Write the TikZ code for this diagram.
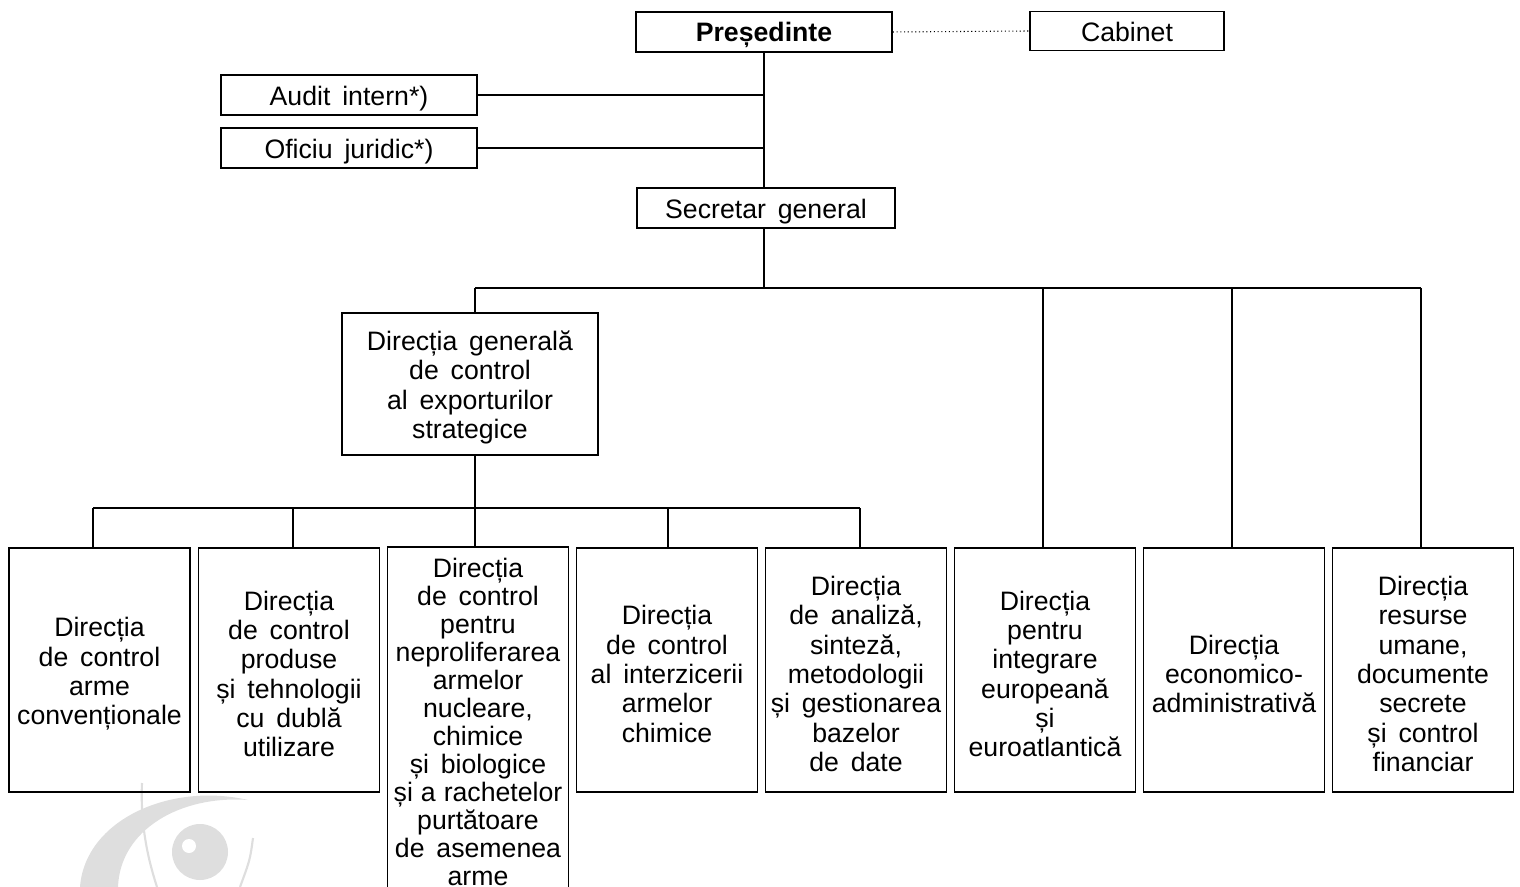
\documentclass[tikz,border=0pt]{standalone}
\usepackage{fontspec}
\setmainfont{Liberation Sans}[WordSpace=1.6]
\definecolor{wm}{HTML}{DEDEDE}
\begin{document}
\begin{tikzpicture}[x=0.75pt,y=-0.75pt,
  box/.style={draw, line width=1.2pt, inner sep=0pt},
  txt/.style={inner sep=0pt, align=center,
    font=\fontsize{20}{22}\selectfont},
  dirbox/.style={box, minimum width=135.75pt, minimum height=183pt},
  ln/.style={line width=1.2pt},
  wmline/.style={draw=wm, line width=1.6pt}]
\useasboundingbox (0,0) rectangle (1520,887);

% watermark
\fill[wm] (80,887) .. controls (85,820) and (170,782) .. (248,800)
  .. controls (180,795) and (120,830) .. (118,887) -- cycle;
\draw[wmline] (142,783) .. controls (140,830) and (150,865) .. (157,887);
\fill[wm] (200,852) circle[radius=28];
\fill[white] (189,846) circle[radius=7];
\draw[wmline] (253,838) .. controls (250,860) .. (240,887);

% top
\node[box, minimum width=192pt, minimum height=30pt] (pres) at (764,32) {};
\node[txt] (prest) at ([yshift=-2.5pt]pres.center) {\bfseries Președinte};
\node[box, minimum width=145.5pt, minimum height=29.25pt] (cab) at (1127,31) {};
\node[txt] (cabt) at ([yshift=-0.5pt]cab.center) {Cabinet};
\node[box, minimum width=192pt, minimum height=30pt] (audit) at (349,95) {};
\node[txt] (auditt) at ([yshift=-2.5pt]audit.center) {Audit intern*)};
\node[box, minimum width=192pt, minimum height=30pt] (ofic) at (349,148) {};
\node[txt] (ofict) at ([yshift=-2.5pt]ofic.center) {Oficiu juridic*)};
\node[box, minimum width=193.5pt, minimum height=30pt] (sec) at (766,208) {};
\node[txt] (sect) at ([yshift=-2.5pt]sec.center) {Secretar general};
\node[box, minimum width=192pt, minimum height=106.5pt] (dg) at (470,384) {};
\node[txt] (dgt) at ([yshift=-2.5pt]dg.center)
  {Direcția generală\\de control\\al exporturilor\\strategice};

% bottom directions
\node[dirbox] (d1) at (99.5,670) {};
\node[txt] (d1t) at ([yshift=-3pt]d1.center) {Direcția\\de control\\arme\\convenționale};
\node[dirbox] (d2) at (289,670) {};
\node[txt] (d2t) at ([yshift=-3pt]d2.center) {Direcția\\de control\\produse\\și tehnologii\\cu dublă\\utilizare};
\node[dirbox, minimum height=262.5pt] (d3) at (478,722) {};
\node[txt, font=\fontsize{20}{21}\selectfont] (d3t) at ([yshift=0pt]d3.center)
  {Direcția\\de control\\pentru\\neproliferarea\\armelor\\nucleare,\\chimice\\și biologice\\și\hspace{0.3em}a\hspace{0.3em}rachetelor\\purtătoare\\de asemenea\\arme};
\node[dirbox] (d4) at (667,670) {};
\node[txt] (d4t) at ([yshift=-3pt]d4.center) {Direcția\\de control\\al interzicerii\\armelor\\chimice};
\node[dirbox] (d5) at (856,670) {};
\node[txt] (d5t) at ([yshift=-3pt]d5.center) {Direcția\\de analiză,\\sinteză,\\metodologii\\și gestionarea\\bazelor\\de date};
\node[dirbox] (d6) at (1045,670) {};
\node[txt] (d6t) at ([yshift=-3pt]d6.center) {Direcția\\pentru\\integrare\\europeană\\și\\euroatlantică};
\node[dirbox] (d7) at (1234,670) {};
\node[txt] (d7t) at ([yshift=-3pt]d7.center) {Direcția\\economico-\\administrativă};
\node[dirbox] (d8) at (1423,670) {};
\node[txt] (d8t) at ([yshift=-3pt]d8.center) {Direcția\\resurse\\umane,\\documente\\secrete\\și control\\financiar};

% connectors top
\draw[dotted, line width=0.8pt] (pres.east) -- (cab.west);
\draw[ln] (pres.south) -- (pres.south |- sec.north);
\draw[ln] (audit.east) -- (audit.east -| pres.south);
\draw[ln] (ofic.east) -- (ofic.east -| pres.south);

% main bus
\coordinate (bL) at (475,288);
\coordinate (bR) at (1421,288);
\coordinate (t6) at (1043,288);
\coordinate (t7) at (1232,288);
\draw[ln] (pres.south |- sec.south) -- (pres.south |- bL);
\draw[ln] (bL) -- (bR);
\draw[ln] (bL) -- (bL |- dg.north);
\draw[ln] (t6) -- (t6 |- d6.north);
\draw[ln] (t7) -- (t7 |- d7.north);
\draw[ln] (bR) -- (bR |- d8.north);

% sub bus
\coordinate (s1) at (93,508);
\coordinate (s2) at (293,508);
\coordinate (s3) at (475,508);
\coordinate (s4) at (668,508);
\coordinate (s5) at (860,508);
\draw[ln] (s1) -- (s5);
\draw[ln] (s3 |- dg.south) -- (s3 |- d3.north);
\draw[ln] (s1) -- (s1 |- d1.north);
\draw[ln] (s2) -- (s2 |- d2.north);
\draw[ln] (s4) -- (s4 |- d4.north);
\draw[ln] (s5) -- (s5 |- d5.north);
\end{tikzpicture}
\end{document}
